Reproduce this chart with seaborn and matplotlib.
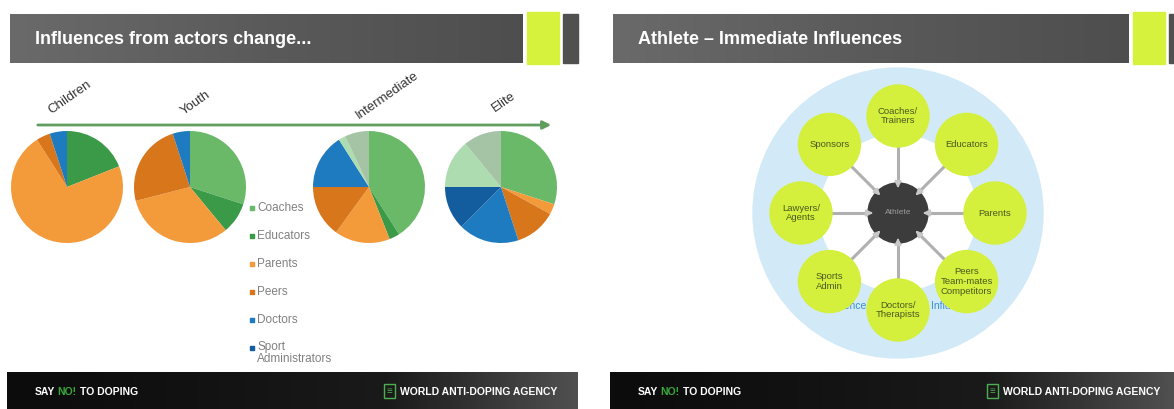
import numpy as np
import seaborn as sns
import matplotlib
matplotlib.use("Agg")
import matplotlib.pyplot as plt
from matplotlib.patches import Circle, Rectangle
from matplotlib.colors import LinearSegmentedColormap

# data
stages = ["Children", "Youth", "Intermediate", "Elite"]
actors = ["Coaches", "Educators", "Parents", "Peers", "Doctors", "Sport\nAdministrators"]
# last two slices have no legend entry on the slide
children_share = [0, 19, 72, 4, 5, 0, 0, 0]
youth_share = [30, 9, 32, 24, 5, 0, 0, 0]
intermediate_share = [41, 3, 16, 15, 16, 0, 2, 7]
elite_share = [30, 0, 3, 12, 17.5, 12.5, 14, 11]

influences = ["Coaches/\nTrainers", "Educators", "Parents", "Peers\nTeam-mates\nCompetitors",
              "Doctors/\nTherapists", "Sports\nAdmin", "Lawyers/\nAgents", "Sponsors"]

slice_colors = ["#69b969", "#3a9a48", "#f39a3a", "#d8761c", "#1f7bc0", "#135c9e", "#addcb0", "#a5c4a5"]

sns.set_theme(style="white")
plt.rcParams['font.family'] = ['Liberation Sans', 'DejaVu Sans']

W, H = 1174, 409
fig = plt.figure(figsize=(W / 100, H / 100), dpi=100)
bg = fig.add_axes([0, 0, 1, 1])
bg.axis("off")

title_cmap = LinearSegmentedColormap.from_list("tb", ["#6a6a6a", "#5a5a5a", "#4e4e4e"])
foot_cmap = LinearSegmentedColormap.from_list("ft", ["#0c0c0c", "#121212", "#1a1a1a", "#505050"])
grad = np.linspace(0, 1, 256)[None, :]


def slide_frame(x0, x1, lime_x, title):
    bg.imshow(grad, extent=(x0, lime_x - 4, 63, 14), cmap=title_cmap, aspect="auto", zorder=1)
    bg.add_patch(Rectangle((lime_x, 12), 32, 52, color="#d6f23c", zorder=1))
    bg.add_patch(Rectangle((lime_x + 36, 14), x1 - lime_x - 36, 49, color="#505050", zorder=1))
    bg.text(x0 + 25, 39, title, color="white", fontsize=13, fontweight="bold", va="center", zorder=2)
    bg.imshow(grad, extent=(x0 - 3, x1, 409, 372), cmap=foot_cmap, aspect="auto", zorder=1)
    bg.text(x0 + 25, 392, "SAY", color="white", fontsize=7.5, fontweight="bold", va="center", zorder=2)
    bg.text(x0 + 47, 392, "NO!", color="#3aa53a", fontsize=7.5, fontweight="bold", va="center", zorder=2)
    bg.text(x0 + 70, 392, "TO DOPING", color="white", fontsize=7.5, fontweight="bold", va="center", zorder=2)
    bg.add_patch(Rectangle((x0 + 374, 384), 11, 14, facecolor="#1a1a1a", edgecolor="#4caf50", lw=1, zorder=2))
    bg.text(x0 + 379.5, 391, "≡", color="#4caf50", fontsize=7, ha="center", va="center", zorder=3)
    bg.text(x0 + 390, 392, "WORLD ANTI-DOPING AGENCY", color="white", fontsize=7.5, fontweight="bold",
            va="center", zorder=2)


slide_frame(10, 578, 527, "Influences from actors change...")
slide_frame(613, 1174, 1133, "Athlete – Immediate Influences")

# left slide: timeline arrow and stage labels
bg.annotate("", xy=(554, 125), xytext=(35, 125),
            arrowprops=dict(arrowstyle="-|>", color="#5f9e5f", lw=2, mutation_scale=12))
pie_cx = [67, 190, 369, 501]
pie_cy = 187
pie_r = 56
label_offset = [(3, -90), (6, -84), (18, -92), (3, -85)]
for stage, cx, (dx, dy) in zip(stages, pie_cx, label_offset):
    bg.text(cx + dx, pie_cy + dy, stage, rotation=35, fontsize=9.5, color="#333333",
            ha="center", va="center")

for share, cx in zip([children_share, youth_share, intermediate_share, elite_share], pie_cx):
    ax = fig.add_axes([(cx - pie_r) / W, 1 - (pie_cy + pie_r) / H, 2 * pie_r / W, 2 * pie_r / H])
    ax.pie(share, colors=slice_colors, startangle=90, counterclock=False,
           wedgeprops=dict(linewidth=0))
    ax.set_xlim(-1, 1)
    ax.set_ylim(-1, 1)
    ax.axis("off")

# legend
for i, (name, col) in enumerate(zip(actors, slice_colors)):
    y = 208 + i * 28
    bg.scatter([252], [y], marker="s", s=9, color=col, zorder=3)
    if "\n" in name:
        bg.text(257, y - 7, name, fontsize=8.5, color="#808080", va="top", linespacing=1.05)
    else:
        bg.text(257, y, name, fontsize=8.5, color="#808080", va="center")

# right slide: influence wheel
cx, cy = 898, 213
bg.add_patch(Circle((cx, cy), 145, color="#d2eaf7", zorder=2))
bg.add_patch(Circle((cx, cy), 78, color="white", zorder=2))
bg.text(866, 306, "Influence", color="#3b8fd0", fontsize=7.5, ha="right", va="center", zorder=2.5)
bg.text(931, 306, "Influence", color="#3b8fd0", fontsize=7.5, ha="left", va="center", zorder=2.5)
node_r = 31
ring = 97
for i, name in enumerate(influences):
    a = np.deg2rad(i * 45)
    nx, ny = cx + ring * np.sin(a), cy - ring * np.cos(a)
    sx, sy = cx + (ring - node_r) * np.sin(a), cy - (ring - node_r) * np.cos(a)
    ex, ey = cx + 22 * np.sin(a), cy - 22 * np.cos(a)
    bg.plot([sx, cx + 30 * np.sin(a)], [sy, cy - 30 * np.cos(a)], color="#b0b0b0", lw=2.2, zorder=3)
    bg.annotate("", xy=(ex, ey), xytext=(cx + 31 * np.sin(a), cy - 31 * np.cos(a)),
                arrowprops=dict(arrowstyle="-|>", color="#c8c8c8", lw=1.5, mutation_scale=9), zorder=6)
    bg.add_patch(Circle((nx, ny), node_r, color="#d4f03c", zorder=4))
    bg.text(nx, ny, name, fontsize=6.8, color="#4a5a20", ha="center", va="center", linespacing=1.1, zorder=5)
bg.add_patch(Circle((cx, cy), 30, color="#3c3c3c", zorder=5))
bg.text(cx, cy, "Athlete", fontsize=6, color="#9a9a9a", ha="center", va="center", zorder=7)

bg.set_xlim(0, W)
bg.set_ylim(H, 0)
fig.savefig("out.png", dpi=100)
